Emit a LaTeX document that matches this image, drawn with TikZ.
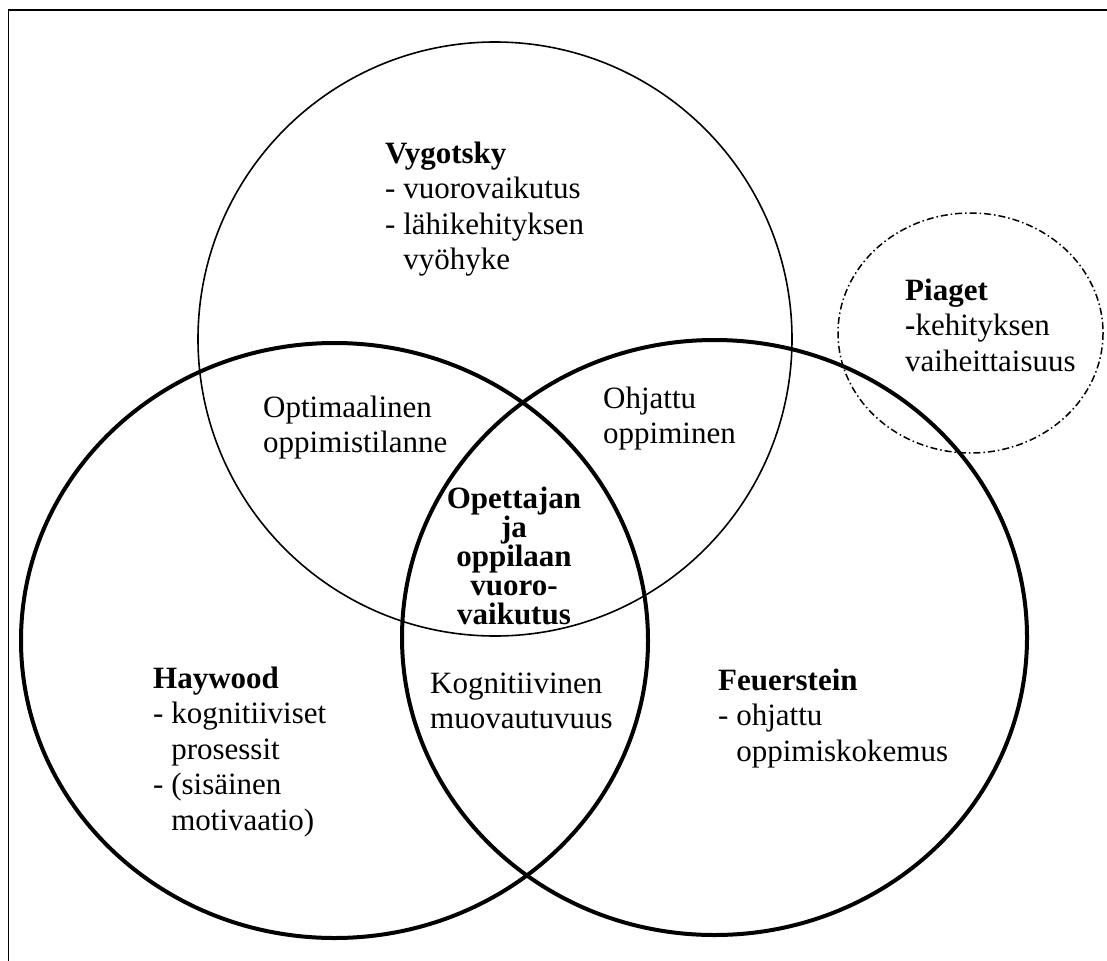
\documentclass[tikz,border=0pt]{standalone}
\usepackage{fontspec}
\setmainfont{Liberation Serif}
\begin{document}
\begin{tikzpicture}[x=1pt,y=-1pt,
  thickring/.style={line width=4pt},
  thinring/.style={line width=1.6pt},
  dashring/.style={line width=1.5pt, dash pattern=on 7pt off 3pt on 1.5pt off 3pt},
  % multi-line nodes: the base anchor sits on the last line
  txt/.style={inner sep=0pt, anchor=base west, align=left,
    font=\fontsize{31}{35.5}\selectfont},
  core/.style={inner sep=0pt, anchor=base, align=center,
    font=\fontsize{31}{29}\selectfont\bfseries},
]
\useasboundingbox (0,0) rectangle (1107,960);
% outer frame
\draw[line width=1.6pt] (8.5,10) rectangle (1140,990);

% centres of the four rings
\coordinate (vyg) at (495,339);
\coordinate (hay) at (334.5,640.5);
\coordinate (feu) at (714.5,637.5);
\coordinate (pia) at (970.5,333);

\draw[thinring]  (vyg) ellipse [x radius=297,   y radius=297];
\draw[thickring] (hay) ellipse [x radius=313.5, y radius=297.5];
\draw[thickring] (feu) ellipse [x radius=312.5, y radius=297.5];
\draw[dashring]  (pia) ellipse [x radius=132.5, y radius=120];

% texts
\node[txt] (tvyg) at (385,269.5)
  {\textbf{Vygotsky}\\- vuorovaikutus\\- lähikehityksen\\\phantom{- }vyöhyke};
\node[txt] (tpia) at (905,371)
  {\textbf{Piaget}\\\textbf{-}kehityksen\\vaiheittaisuus};
\node[txt] (thay) at (153,830)
  {\textbf{Haywood}\\- kognitiiviset\\\phantom{- }prosessit\\- (sisäinen\\\phantom{- }motivaatio)};
\node[txt] (tfeu) at (718,761)
  {\textbf{Feuerstein}\\- ohjattu\\\phantom{- }oppimiskokemus};
\node[txt] (topt) at (263,452.5) {Optimaalinen\\oppimistilanne};
\node[txt] (tohj) at (603,443.5) {Ohjattu\\oppiminen};
\node[txt] (tkog) at (430,728.5) {Kognitiivinen\\muovautuvuus};
\node[core] (tcore) at (514,624) {Opettajan\\ja\\oppilaan\\vuoro-\\vaikutus};
\end{tikzpicture}
\end{document}
